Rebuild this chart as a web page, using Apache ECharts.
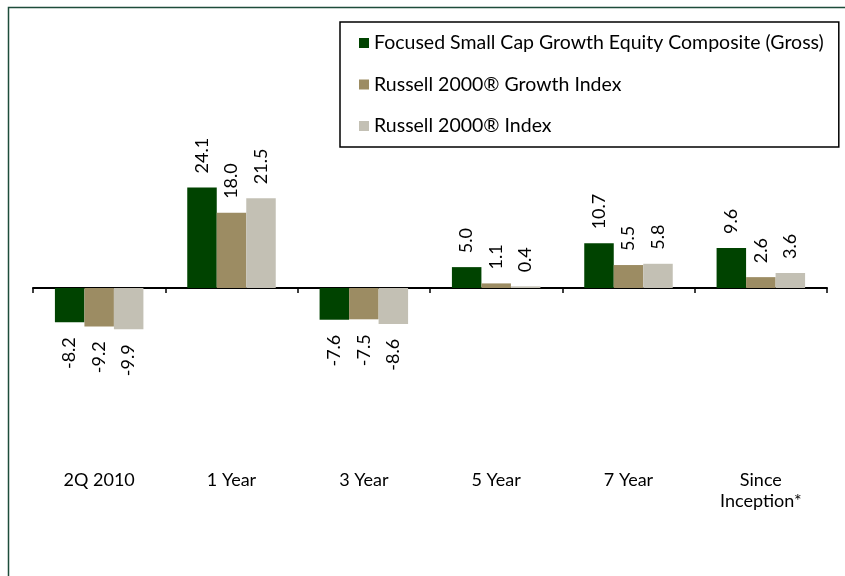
<!DOCTYPE html>
<html>
<head>
<meta charset="utf-8">
<script src="https://cdn.jsdelivr.net/npm/echarts@6/dist/echarts.min.js"></script>
<style>
  html, body { margin: 0; padding: 0; background: #fff; }
  #chart { width: 845px; height: 576px; }
</style>
</head>
<body>
<div id="chart"></div>
<script>
const categories = ['2Q 2010', '1 Year', '3 Year', '5 Year', '7 Year', 'Since\nInception*'];
const series_names = [
    'Focused Small Cap Growth Equity Composite (Gross)',
    'Russell 2000® Growth Index',
    'Russell 2000® Index',
];
const composite = [-8.2, 24.1, -7.6, 5.0, 10.7, 9.6];
const growth_index = [-9.2, 18.0, -7.5, 1.1, 5.5, 2.6];
const russell_index = [-9.9, 21.5, -8.6, 0.4, 5.8, 3.6];

const colors = ['#004300', '#9c8c63', '#c3c0b4'];
const font = 'Lato, "Noto Sans", sans-serif';

// negative bars get their label below, reading upward
function bar_data(values) {
    return values.map((v) => ({
        value: v,
        label: v < 0
            ? { position: 'bottom', align: 'right', distance: 15 }
            : { position: 'top', align: 'left', distance: 14 },
    }));
}

const all_values = [composite, growth_index, russell_index];

let chart = echarts.init(document.getElementById('chart'));
let option = {
    animation: false,
    textStyle: { fontFamily: font },
    graphic: [
        {
            type: 'rect',
            shape: { x: 8.5, y: 7.5, width: 900, height: 700 },
            style: { fill: 'none', stroke: '#1d4d3b', lineWidth: 1.5 },
            silent: true,
        },
    ],
    legend: {
        orient: 'vertical',
        left: 340,
        top: 22,
        width: 502,
        padding: [11, 15, 11, 19],
        borderColor: '#000',
        borderWidth: 1.5,
        itemWidth: 10,
        itemHeight: 10,
        itemGap: 21.5,
        icon: 'rect',
        textStyle: { fontSize: 19.5, color: '#000', fontFamily: font },
        data: series_names,
    },
    grid: { left: 33, right: 18, top: 121, bottom: 121 },
    xAxis: [
        {
            type: 'category',
            data: categories,
            axisLine: { onZero: true, lineStyle: { color: '#000', width: 2 } },
            axisTick: { show: true, length: 5, lineStyle: { color: '#000', width: 1.5 } },
            axisLabel: { show: false },
        },
        {
            type: 'category',
            position: 'bottom',
            data: categories,
            axisLine: { show: false, onZero: false },
            axisTick: { show: false },
            axisLabel: {
                margin: 15,
                fontSize: 18,
                lineHeight: 21,
                color: '#000',
                fontFamily: font,
            },
        },
    ],
    yAxis: {
        type: 'value',
        min: -40,
        max: 40,
        show: false,
        splitLine: { show: false },
    },
    series: series_names.map((name, i) => ({
        name: name,
        type: 'bar',
        xAxisIndex: 0,
        barWidth: 29.5,
        barGap: '0%',
        itemStyle: { color: colors[i] },
        label: {
            show: true,
            rotate: 90,
            verticalAlign: 'middle',
            fontSize: 18,
            color: '#000',
            fontFamily: font,
            formatter: (p) => p.value.toFixed(1),
        },
        data: bar_data(all_values[i]),
    })),
};
chart.setOption(option);
</script>
</body>
</html>
